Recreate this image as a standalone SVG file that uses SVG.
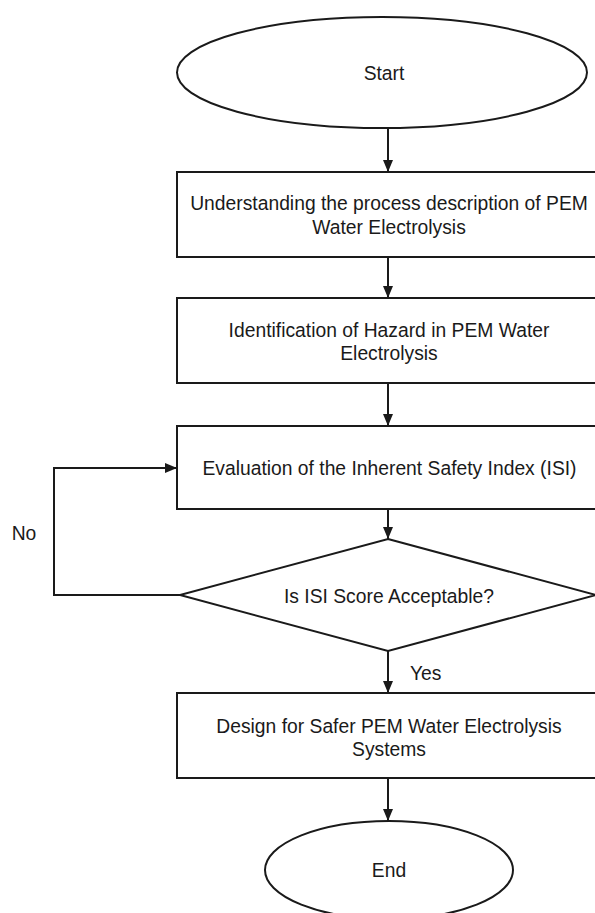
<svg xmlns="http://www.w3.org/2000/svg" width="595" height="913" viewBox="0 0 595 913">
<defs>
<style>
.shape{fill:#fff;stroke:#1a1a1a;stroke-width:2}
.edge{fill:none;stroke:#1a1a1a;stroke-width:2}
text{font-family:"Liberation Sans",Arial,Helvetica,sans-serif;font-size:19.3px;fill:#1a1a1a}
.c{text-anchor:middle;dominant-baseline:central}
</style>
<marker id="arr" viewBox="0 0 12 12" refX="12" refY="6" markerWidth="12" markerHeight="12" markerUnits="userSpaceOnUse" orient="auto">
<path d="M0,1 L12,6 L0,11 Z" fill="#1a1a1a"/>
</marker>
</defs>
<rect width="595" height="913" fill="#fff"/>
<g id="connectors">
<line class="edge" x1="388" y1="128" x2="388" y2="172" marker-end="url(#arr)"/>
<line class="edge" x1="388" y1="257" x2="388" y2="298" marker-end="url(#arr)"/>
<line class="edge" x1="388" y1="383" x2="388" y2="426" marker-end="url(#arr)"/>
<line class="edge" x1="388" y1="509" x2="388" y2="539" marker-end="url(#arr)"/>
<line class="edge" x1="388" y1="651" x2="388" y2="693" marker-end="url(#arr)"/>
<line class="edge" x1="388" y1="778" x2="388" y2="821" marker-end="url(#arr)"/>
<polyline class="edge" points="180,595 54,595 54,468 177,468" marker-end="url(#arr)"/>
<text x="24" y="533" class="c">No</text>
<text x="410" y="673" style="dominant-baseline:central">Yes</text>
</g>
<g id="start">
<ellipse class="shape" cx="382" cy="72.5" rx="205" ry="55.5"/>
<text x="384" y="73" class="c">Start</text>
</g>
<g id="understand">
<rect class="shape" x="177" y="172" width="430" height="85"/>
<text x="389" y="203" class="c">Understanding the process description of PEM</text>
<text x="389" y="227" class="c">Water Electrolysis</text>
</g>
<g id="hazard">
<rect class="shape" x="177" y="298" width="430" height="85"/>
<text x="389" y="330" class="c">Identification of Hazard in PEM Water</text>
<text x="389" y="353" class="c">Electrolysis</text>
</g>
<g id="evaluate">
<rect class="shape" x="177" y="426" width="430" height="83"/>
<text x="389.5" y="468" class="c">Evaluation of the Inherent Safety Index (ISI)</text>
</g>
<g id="decision">
<polygon class="shape" points="388,539 596,595 388,651 180,595"/>
<text x="389" y="596" class="c">Is ISI Score Acceptable?</text>
</g>
<g id="design">
<rect class="shape" x="177" y="693" width="430" height="85"/>
<text x="389" y="726" class="c">Design for Safer PEM Water Electrolysis</text>
<text x="389" y="749" class="c">Systems</text>
</g>
<g id="end">
<ellipse class="shape" cx="389" cy="870" rx="124" ry="49"/>
<text x="389" y="870" class="c">End</text>
</g>
</svg>
